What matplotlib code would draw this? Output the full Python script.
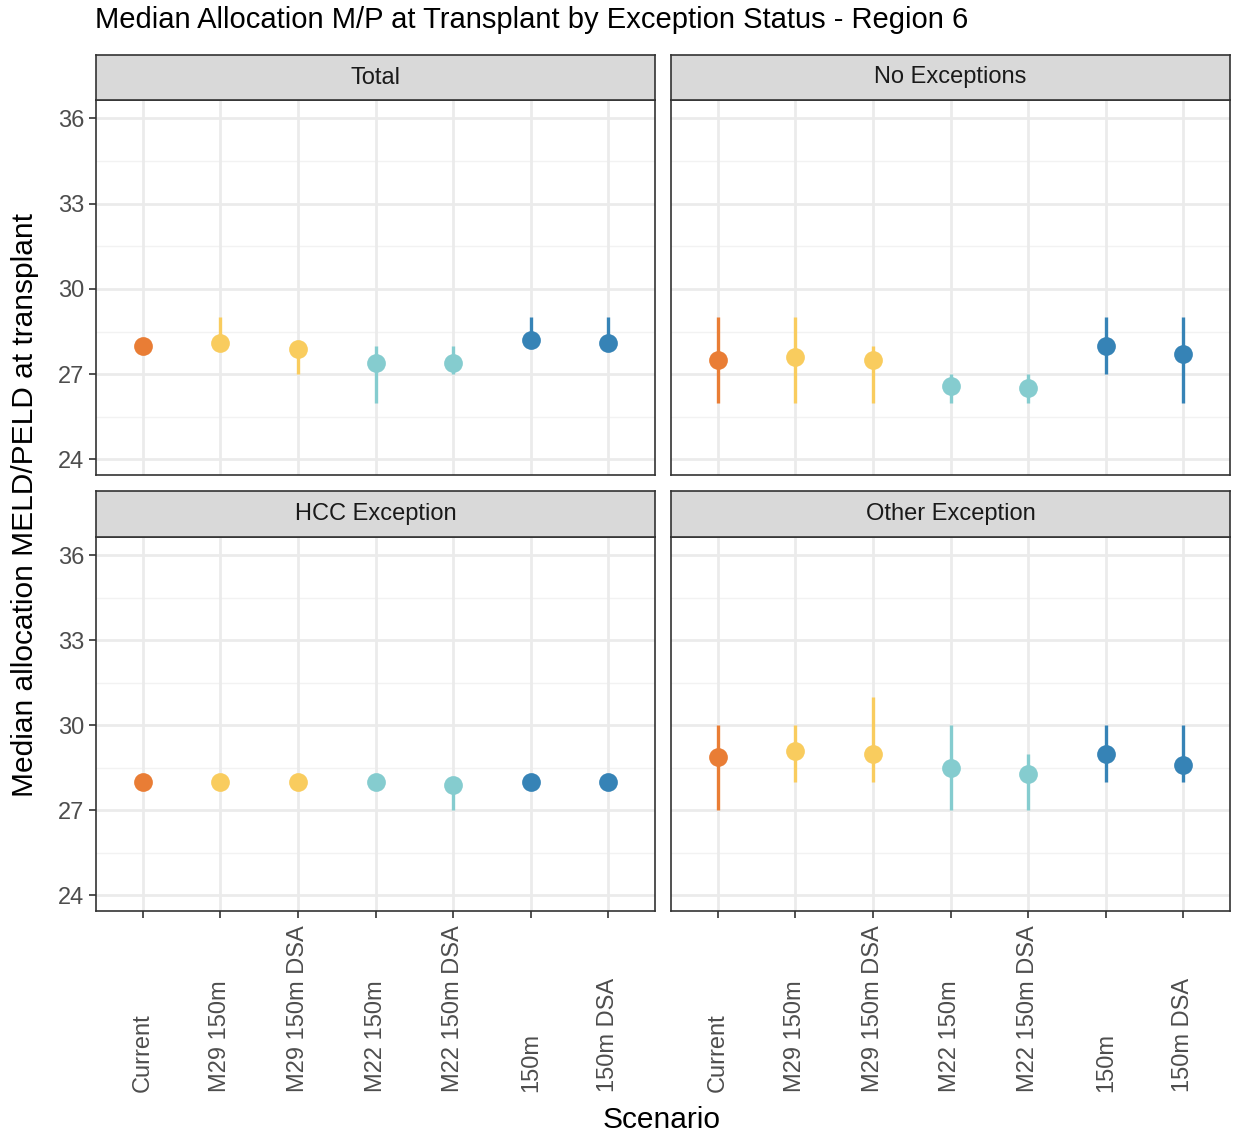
import matplotlib
matplotlib.use("Agg")
import matplotlib.pyplot as plt
import matplotlib.transforms as mtransforms

plt.rcParams['font.family'] = ['Liberation Sans', 'DejaVu Sans']

scenarios = ["Current", "M29 150m", "M29 150m DSA", "M22 150m", "M22 150m DSA", "150m", "150m DSA"]
colors = ["#E97D35", "#F9CC5E", "#F9CC5E", "#85CCCF", "#85CCCF", "#3683B6", "#3683B6"]
panels = ["Total", "No Exceptions", "HCC Exception", "Other Exception"]

total_med = [28.0, 28.1, 27.9, 27.4, 27.4, 28.2, 28.1]
total_lo = [28.0, 28.0, 27.0, 26.0, 27.0, 28.0, 28.0]
total_hi = [28.0, 29.0, 28.0, 28.0, 28.0, 29.0, 29.0]

noexc_med = [27.5, 27.6, 27.5, 26.6, 26.5, 28.0, 27.7]
noexc_lo = [26.0, 26.0, 26.0, 26.0, 26.0, 27.0, 26.0]
noexc_hi = [29.0, 29.0, 28.0, 27.0, 27.0, 29.0, 29.0]

hcc_med = [28.0, 28.0, 28.0, 28.0, 27.9, 28.0, 28.0]
hcc_lo = [28.0, 28.0, 28.0, 28.0, 27.0, 28.0, 28.0]
hcc_hi = [28.0, 28.0, 28.0, 28.0, 28.0, 28.0, 28.0]

other_med = [28.9, 29.1, 29.0, 28.5, 28.3, 29.0, 28.6]
other_lo = [27.0, 28.0, 28.0, 27.0, 27.0, 28.0, 28.0]
other_hi = [30.0, 30.0, 31.0, 30.0, 29.0, 30.0, 30.0]

data = [(total_med, total_lo, total_hi), (noexc_med, noexc_lo, noexc_hi),
        (hcc_med, hcc_lo, hcc_hi), (other_med, other_lo, other_hi)]

yticks = [24, 27, 30, 33, 36]
minor_y = [25.5, 28.5, 31.5, 34.5]

W, H = 1235, 1139
fig = plt.figure(figsize=(W / 100, H / 100), dpi=100)

def fx(px):
    return px / W

def fy(px):
    return 1 - px / H

cols = [(96, 655), (671, 1230)]
rows = [(100, 475, 55), (537, 911, 491)]

for r, (ytop, ybot, stop) in enumerate(rows):
    for c, (xl, xr) in enumerate(cols):
        idx = r * 2 + c
        ax = fig.add_axes([fx(xl), fy(ybot), fx(xr - xl), (ybot - ytop) / H])
        med, lo, hi = data[idx]
        xs = list(range(1, len(scenarios) + 1))
        ax.set_xlim(0.4, 7.6)
        ax.set_ylim(23.45, 36.65)
        for y in minor_y:
            ax.axhline(y, color="#F2F2F2", lw=1.0, zorder=0)
        for y in yticks:
            ax.axhline(y, color="#EBEBEB", lw=2.0, zorder=0)
        for x in xs:
            ax.axvline(x, color="#EBEBEB", lw=2.0, zorder=0)
        for i, x in enumerate(xs):
            ax.vlines(x, lo[i], hi[i], color=colors[i], lw=2.4, zorder=2)
            ax.plot(x, med[i], 'o', ms=13.5, color=colors[i], mec='none', zorder=3)
        for s in ax.spines.values():
            s.set_color("#333333")
            s.set_linewidth(1.2)
        ax.set_yticks(yticks)
        ax.set_xticks(xs)
        ax.tick_params(colors="#333333", length=5, width=1.2, labelcolor="#4D4D4D", labelsize=17)
        if c == 0:
            ax.set_yticklabels([str(v) for v in yticks])
        else:
            ax.tick_params(axis='y', left=False, labelleft=False)
        if r == 1:
            ax.set_xticklabels([""] * len(xs))
            trans = mtransforms.blended_transform_factory(ax.transData, fig.transFigure)
            for i, x in enumerate(xs):
                ax.text(x, fy(1092), scenarios[i], rotation=90, ha='center', va='bottom',
                        fontsize=17, color="#4D4D4D", transform=trans, clip_on=False)
        else:
            ax.tick_params(axis='x', bottom=False, labelbottom=False)
        sax = fig.add_axes([fx(xl), fy(ytop), fx(xr - xl), (ytop - stop) / H])
        sax.set_xticks([])
        sax.set_yticks([])
        sax.set_facecolor("#D9D9D9")
        for s in sax.spines.values():
            s.set_color("#333333")
            s.set_linewidth(1.2)
        sax.text(0.5, 0.5, panels[idx], ha='center', va='center', fontsize=17, color="#1A1A1A",
                 transform=sax.transAxes)

fig.text(fx(95), fy(20), "Median Allocation M/P at Transplant by Exception Status - Region 6",
         ha='left', va='center', fontsize=21, color="black")
fig.text(fx(25), fy(505), "Median allocation MELD/PELD at transplant", rotation=90,
         ha='center', va='center', fontsize=21.5, color="black")
fig.text(fx(662), fy(1120), "Scenario", ha='center', va='center', fontsize=21.5, color="black")

fig.savefig("out.png", dpi=100, facecolor="white")
